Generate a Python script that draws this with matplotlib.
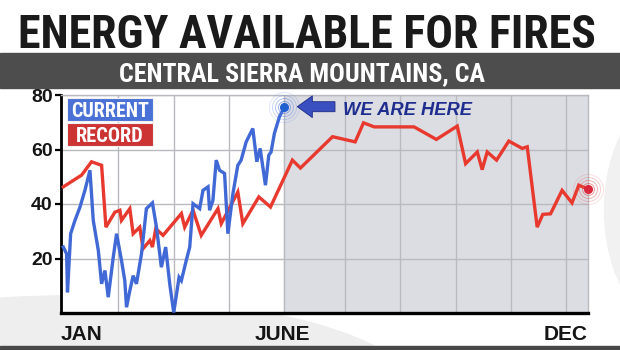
import matplotlib
matplotlib.use("Agg")
import numpy as np
import matplotlib.pyplot as plt
from matplotlib import font_manager
from matplotlib.patches import Rectangle, Ellipse

# values (x = day of year, y = energy release component)
blue_day = [1.6, 3.9, 4.5, 6.7, 9.7, 13.2, 16.6, 17.8, 20.1, 22.4, 25.9, 28.2, 30.5, 32.8,
            36.3, 38.6, 42.0, 44.3, 45.5, 47.8, 50.1, 52.4, 55.9, 59.3, 63.5, 66.3, 69.7,
            72.7, 75.5, 78.3, 82.0, 83.6, 87.0, 89.4, 91.7, 96.3, 98.6, 102.1, 103.2, 105.5,
            107.8, 110.1, 113.6, 115.9, 119.4, 122.8, 125.1, 128.6, 133.2, 136.0, 138.3,
            142.0, 144.3, 145.9, 148.2, 151.7, 155.2]
blue_val = [24.2, 21.7, 7.6, 29.1, 34.0, 38.9, 45.0, 47.5, 52.4, 34.0, 23.0, 10.7, 15.6, 5.8,
            20.5, 29.1, 19.3, 11.9, 2.1, 8.2, 13.7, 10.7, 21.7, 38.3, 40.4, 31.5, 16.8,
            24.2, 10.7, 0.2, 13.1, 11.9, 19.3, 24.2, 40.1, 38.3, 45.0, 46.3, 37.7, 41.3,
            56.1, 52.4, 51.2, 29.1, 43.8, 54.2, 56.1, 62.8, 67.7, 55.5, 60.4,
            46.9, 57.9, 59.1, 65.9, 72.0, 75.7]

red_day = [1.6, 14.3, 21.2, 28.2, 31.2, 37.4, 40.9, 42.0, 47.8, 50.1, 54.7, 57.0, 61.7, 63.5,
           65.8, 70.9, 83.6, 85.9, 91.7, 97.4, 109.0, 111.3, 122.8, 126.3, 137.4, 145.5,
           160.7, 166.3, 188.6, 204.3, 210.1, 217.5, 245.2, 260.7, 275.2, 281.0, 289.1,
           292.5, 296.0, 302.5, 311.0, 320.3, 323.8, 330.7, 334.6, 340.0, 348.0, 354.9,
           359.6, 365.8]
red_val = [46.3, 50.6, 55.5, 54.2, 31.5, 37.0, 37.7, 34.0, 38.3, 29.1, 31.5, 23.6, 26.6, 24.2,
           30.9, 28.5, 36.5, 31.5, 37.7, 28.5, 38.3, 32.8, 44.4, 32.8, 42.6, 38.9,
           56.1, 53.2, 64.7, 62.8, 69.8, 68.3, 68.3, 63.7, 68.6, 54.8, 59.1,
           52.6, 59.1, 56.1, 63.1, 60.4, 61.0, 31.5, 36.2, 36.4, 45.0, 40.4,
           46.9, 45.5]

grid_days = [39.5, 78.3, 116.4, 155.1, 197.4, 235.5, 274.3, 312.4, 350.5]
month_ticks = [0, 154, 366]
month_labels = ["JAN", "JUNE", "DEC"]
y_ticks = [20, 40, 60, 80]

available = {f.name for f in font_manager.fontManager.ttflist}
cond = next((f for f in ["Roboto Condensed", "Liberation Sans Narrow", "Open Sans Condensed"]
             if f in available), "DejaVu Sans")
heavy = "Liberation Sans" if "Liberation Sans" in available else "DejaVu Sans"

fig = plt.figure(figsize=(6.2, 3.5), dpi=100, facecolor="white")

# background swooshes and bands
fig.add_artist(Ellipse((0.12, -0.12), 1.1, 0.55, color="#eeeeee", zorder=-5))
fig.add_artist(Ellipse((1.1, 0.4), 0.25, 0.7, color="#f1f1f1", zorder=-5))
fig.add_artist(Rectangle((0, 1 - 88 / 350), 1, 35 / 350, color="#4d4d4d", zorder=-1))
fig.add_artist(Rectangle((0, 0), 1, 4 / 350, color="#484848", zorder=-1))

ax = fig.add_axes([61 / 620, 1 - 313 / 350, 527 / 620, 218 / 350])
ax.set_facecolor("white")
ax.set_xlim(0, 366)
ax.set_ylim(0, 80)

now = blue_day[-1]
ax.axvspan(now, 366, color="#dcdde3", zorder=0)

ax.plot(red_day, red_val, color="#e8392e", lw=2.4, zorder=3, solid_joinstyle="miter")
ax.plot(blue_day, blue_val, color="#4169d6", lw=2.4, zorder=4, solid_joinstyle="miter")

# end dots with rings
for x, y, c, dc in [(blue_day[-1], blue_val[-1], "#5a7de0", "#1f5fd0"),
                    (red_day[-1], red_val[-1], "#e05a5a", "#d9263a")]:
    for r, a in [(6, 0.6), (9, 0.45), (12, 0.3), (15, 0.18)]:
        ax.plot(x, y, "o", ms=2 * r * 0.72, mfc="none", mec=c, mew=0.7, alpha=a,
                zorder=5, clip_on=False)
    ax.plot(x, y, "o", ms=5.5, color=dc, zorder=6, clip_on=False)

ax.annotate("", xy=(now + 7, blue_val[-1]), xytext=(now + 37, blue_val[-1]),
            arrowprops=dict(arrowstyle="simple,head_width=1.3,head_length=0.9,tail_width=0.6",
                            mutation_scale=12, fc="#3a4fc0", ec="#1d2a80", lw=0.6),
            zorder=6)
here = ax.text((343 - 61) / 527, (313 - 115) / 218, "WE ARE HERE", transform=ax.transAxes,
               ha="left", va="baseline", color="#1f2d8f", fontsize=13, weight="bold",
               style="italic", family=heavy, zorder=7)

# legend boxes
for label, c, y0 in [("CURRENT", "#4a72d6", 98), ("RECORD", "#cc3333", 123)]:
    ax.add_patch(Rectangle((6 / 527, (313 - y0 - 23) / 218), 86 / 527, 23 / 218,
                           transform=ax.transAxes, fc=c, ec="#f0f0f0", lw=0.8, zorder=7))
legend_texts = []
for label, y0, w in [("CURRENT", 117, 78), ("RECORD", 142, 68)]:
    t = ax.text(49 / 527, (313 - y0) / 218, label, transform=ax.transAxes,
                ha="center", va="baseline", color="white", fontsize=12, weight="bold",
                family=cond, stretch="condensed", zorder=8)
    legend_texts.append((t, w))

# axes styling
ax.set_axisbelow(True)
ax.set_yticks(y_ticks)
ax.set_yticklabels([str(v) for v in y_ticks])
ax.set_xticks(month_ticks)
ax.set_xticklabels(month_labels)
ax.set_xticks(grid_days, minor=True)
ax.xaxis.grid(True, which="minor", color="#b9bac0", lw=1)
ax.xaxis.grid(False, which="major")
ax.yaxis.grid(True, which="major", color="#b9bac0", lw=1)
ax.tick_params(axis="x", which="both", length=0, pad=9)
ax.tick_params(axis="y", length=4, width=1.6, color="black", pad=2)
for lab in ax.get_yticklabels():
    lab.set_fontfamily(heavy)
    lab.set_fontweight("bold")
    lab.set_fontsize(14)
    lab.set_color("#151515")
xl = ax.get_xticklabels()
for lab, ha in zip(xl, ["left", "center", "right"]):
    lab.set_ha(ha)
    lab.set_fontfamily(heavy)
    lab.set_fontweight("bold")
    lab.set_fontsize(15)
    lab.set_color("#151515")
ax.spines["left"].set_linewidth(2)
ax.spines["bottom"].set_linewidth(2.4)
for s in ["top", "right"]:
    ax.spines[s].set_color("#b9bac0")
    ax.spines[s].set_linewidth(1)

title = fig.text(307 / 620, 1 - 48 / 350, "ENERGY AVAILABLE FOR FIRES", ha="center",
                 va="baseline", fontsize=30, weight="bold", family=cond, stretch="condensed",
                 color="#1a1a1a")
sub = fig.text(302 / 620, 1 - 81 / 350, "CENTRAL SIERRA MOUNTAINS, CA", ha="center",
               va="baseline", fontsize=16, weight="bold", family=cond, stretch="condensed",
               color="white")


def fit(t, w):
    fig.canvas.draw()
    bb = t.get_window_extent(renderer=fig.canvas.get_renderer())
    t.set_fontsize(t.get_fontsize() * w / bb.width)


fit(title, 577)
fit(sub, 365)
fit(here, 129)
for t, w in legend_texts:
    fit(t, w)

fig.savefig("out.png", dpi=100, facecolor=fig.get_facecolor())
